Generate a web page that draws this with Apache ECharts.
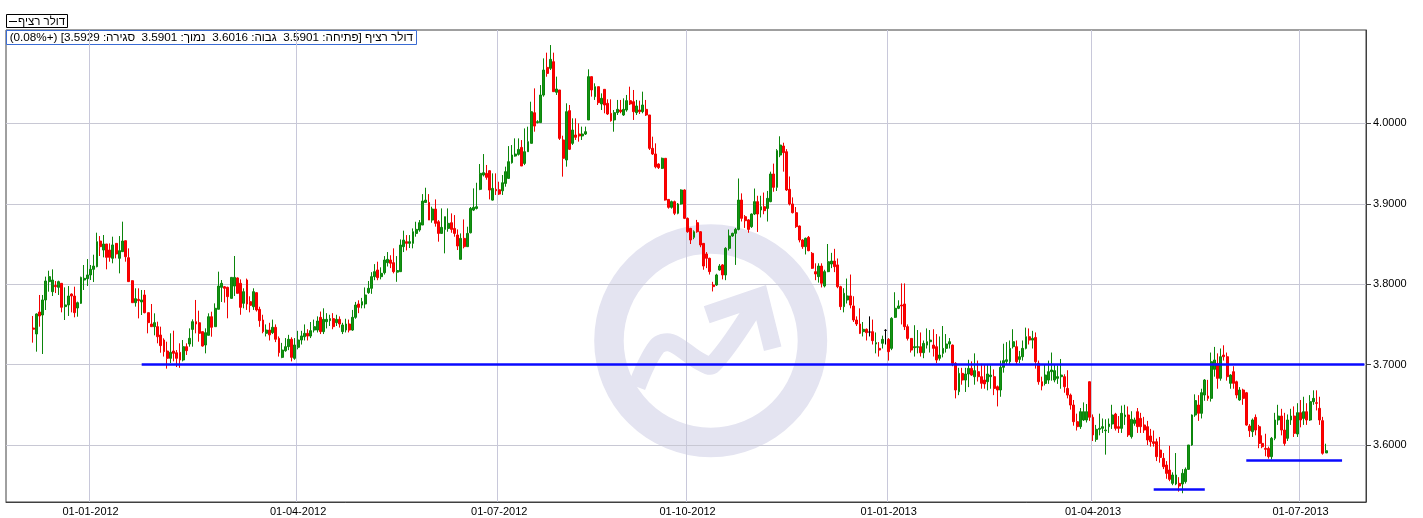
<!DOCTYPE html>
<html>
<head>
<meta charset="utf-8">
<script src="https://cdn.jsdelivr.net/npm/echarts@6.0.0/dist/echarts.min.js"></script>
<style>
  html, body { margin: 0; padding: 0; background: #fff; }
  #dollarChart { width: 1423px; height: 518px; direction: rtl; }
</style>
</head>
<body>
<div id="dollarChart"></div>
<script>
// דולר רציף - נרות יומיים [open, close, low, high]
const decFeb2012 = [
  [3.7455,3.7440,3.7273,3.7605],[3.7381,3.7630,3.7161,3.7638],[3.7654,3.7605,3.7472,3.7866],[3.7617,3.7804,3.7132,3.7866],
  [3.7804,3.8040,3.7679,3.8094],[3.8032,3.8094,3.7907,3.8168],[3.7907,3.8052,3.7853,3.8185],[3.7985,3.7970,3.7890,3.8040],
  [3.7961,3.8032,3.7866,3.8044],[3.8011,3.7713,3.7650,3.8015],[3.7721,3.7742,3.7555,3.7961],[3.7742,3.7853,3.7605,3.7977],
  [3.7878,3.7853,3.7650,3.7886],[3.7853,3.7646,3.7588,3.7969],[3.7704,3.7770,3.7596,3.7783],[3.7762,3.8085,3.7754,3.8094],
  [3.8052,3.8073,3.7928,3.8239],[3.8069,3.8115,3.7978,3.8313],[3.8115,3.8185,3.8052,3.8239],[3.8185,3.8226,3.8027,3.8367],
  [3.8218,3.8529,3.8210,3.8641],[3.8537,3.8467,3.8351,3.8599],[3.8425,3.8500,3.8334,3.8612],[3.8500,3.8334,3.8185,3.8500],
  [3.8425,3.8334,3.8280,3.8508],[3.8322,3.8488,3.8260,3.8591],[3.8508,3.8376,3.8322,3.8508],[3.8322,3.8417,3.8135,3.8599],
  [3.8405,3.8537,3.8405,3.8778],[3.8541,3.8342,3.8280,3.8541],[3.8330,3.8032,3.8032,3.8446],[3.8044,3.7770,3.7770,3.8048],
  [3.7770,3.7820,3.7721,3.7949],[3.7812,3.7795,3.7575,3.7949],[3.7779,3.7804,3.7617,3.7928],[3.7866,3.7646,3.7638,3.7928],
  [3.7646,3.7522,3.7389,3.7646],[3.7505,3.7472,3.7472,3.7754],[3.7472,3.7522,3.7364,3.7638],[3.7472,3.7347,3.7265,3.7534],
  [3.7368,3.7236,3.7148,3.7472],[3.7306,3.7161,3.7100,3.7327],[3.7169,3.7078,3.6950,3.7285],[3.7078,3.7153,3.7020,3.7389],
  [3.7169,3.7140,3.7040,3.7422],[3.7148,3.7078,3.6970,3.7181],[3.7153,3.7057,3.6960,3.7265],[3.7057,3.7223,3.7040,3.7306],
  [3.7223,3.7173,3.7120,3.7265],[3.7256,3.7327,3.7223,3.7451],[3.7438,3.7534,3.7223,3.7563],[3.7534,3.7505,3.7389,3.7804],
  [3.7521,3.7389,3.7285,3.7671],[3.7410,3.7231,3.7223,3.7410],[3.7244,3.7397,3.7140,3.7451],[3.7364,3.7596,3.7364,3.7638],
  [3.7596,3.7464,3.7347,3.7658],[3.7472,3.7700,3.7472,3.7762],[3.7688,3.7977,3.7688,3.8156],[3.7961,3.8011,3.7779,3.8052],
  [3.7969,3.7949,3.7771,3.7977],[3.7961,3.7845,3.7576,3.7969],[3.7824,3.8085,3.7824,3.8085],[3.7977,3.8085,3.7853,3.8351],
  [3.8078,3.7886,3.7886,3.8085]
];
const marMay2012 = [
  [3.8011,3.7712,3.7620,3.8060],[3.7762,3.7907,3.7700,3.7949],[3.8052,3.7754,3.7680,3.8070],[3.7783,3.7737,3.7650,3.7850],
  [3.7720,3.7907,3.7680,3.7949],[3.7895,3.7679,3.7660,3.7900],[3.7687,3.7547,3.7470,3.7720],[3.7555,3.7410,3.7390,3.7620],
  [3.7389,3.7430,3.7350,3.7500],[3.7430,3.7370,3.7300,3.7520],[3.7397,3.7464,3.7380,3.7560],[3.7464,3.7315,3.7280,3.7500],
  [3.7327,3.7148,3.7100,3.7350],[3.7090,3.7181,3.7080,3.7270],[3.7173,3.7223,3.7160,3.7330],[3.7223,3.7315,3.7180,3.7370],
  [3.7315,3.7090,3.7040,3.7340],[3.7078,3.7244,3.7060,3.7330],[3.7215,3.7306,3.7190,3.7420],[3.7306,3.7356,3.7250,3.7420],
  [3.7347,3.7389,3.7300,3.7500],[3.7389,3.7355,3.7300,3.7440],[3.7355,3.7422,3.7330,3.7530],[3.7430,3.7472,3.7400,3.7560],
  [3.7430,3.7542,3.7400,3.7600],[3.7588,3.7410,3.7380,3.7660],[3.7410,3.7563,3.7380,3.7700],[3.7534,3.7563,3.7450,3.7640],
  [3.7547,3.7572,3.7480,3.7620],[3.7572,3.7472,3.7440,3.7640],[3.7522,3.7563,3.7480,3.7620],[3.7563,3.7505,3.7460,3.7600],
  [3.7410,3.7493,3.7380,3.7520],[3.7430,3.7505,3.7400,3.7570],[3.7505,3.7430,3.7400,3.7560],[3.7430,3.7588,3.7420,3.7680],
  [3.7588,3.7741,3.7570,3.7780],[3.7754,3.7712,3.7640,3.7800],[3.7741,3.7783,3.7700,3.7830],[3.7754,3.7866,3.7700,3.7960],
  [3.7895,3.7949,3.7880,3.8040],[3.7949,3.8094,3.7880,3.8150],[3.8094,3.8156,3.8050,3.8250],[3.8177,3.8081,3.8050,3.8280],
  [3.8094,3.8135,3.8060,3.8210],[3.8143,3.8301,3.8120,3.8350],[3.8268,3.8309,3.8220,3.8400],[3.8301,3.8260,3.8200,3.8360]
];
const mayAug2012 = [
  [3.8268,3.8156,3.8135,3.8446],[3.8150,3.8170,3.8030,3.8350],[3.8156,3.8487,3.8156,3.8557],[3.8467,3.8549,3.8400,3.8666],
  [3.8529,3.8508,3.8420,3.8611],[3.8508,3.8529,3.8450,3.8611],[3.8508,3.8653,3.8446,3.8694],[3.8632,3.8682,3.8591,3.8777],
  [3.8674,3.8765,3.8653,3.8798],[3.8736,3.9034,3.8736,3.9121],[3.9017,3.9046,3.9017,3.9200],[3.9017,3.8798,3.8798,3.9121],
  [3.8798,3.8935,3.8765,3.8964],[3.8935,3.8757,3.8716,3.9055],[3.8777,3.8632,3.8529,3.8798],[3.8632,3.8707,3.8632,3.8943],
  [3.8682,3.8840,3.8384,3.8840],[3.8694,3.8757,3.8653,3.8943],[3.8765,3.8682,3.8640,3.8881],[3.8694,3.8632,3.8591,3.8860],
  [3.8612,3.8475,3.8425,3.8682],[3.8309,3.8570,3.8309,3.8632],[3.8570,3.8467,3.8446,3.8806],[3.8467,3.8632,3.8467,3.8715],
  [3.8640,3.8943,3.8632,3.8960],[3.8922,3.8956,3.8910,3.9192],[3.8943,3.8964,3.8930,3.9262],[3.9180,3.9379,3.9170,3.9495],
  [3.9358,3.9387,3.9340,3.9619],[3.9379,3.9329,3.9300,3.9483],[3.9412,3.9171,3.9055,3.9416],[3.9046,3.9192,3.9040,3.9379],
  [3.9180,3.9162,3.9110,3.9379],[3.9175,3.9121,3.9110,3.9275],[3.9162,3.9262,3.9110,3.9358],[3.9254,3.9400,3.9213,3.9462],
  [3.9316,3.9524,3.9316,3.9718],[3.9511,3.9607,3.9500,3.9731],[3.9594,3.9619,3.9586,3.9814],[3.9615,3.9677,3.9600,3.9814],
  [3.9702,3.9470,3.9470,3.9793],[3.9503,3.9648,3.9482,3.9938],[3.9648,3.9773,3.9648,3.9959],[3.9752,4.0146,3.9752,4.0270],
  [4.0133,3.9967,3.9897,4.0436],[4.0010,4.0022,4.0000,4.0040],[4.0010,4.0353,4.0010,4.0477],[4.0353,4.0664,4.0333,4.0809],
  [4.0697,4.0622,4.0581,4.0880],[4.0685,4.0797,4.0664,4.0975],[4.0768,4.0395,4.0395,4.0880]
];
const augOct2012 = [
  [4.0387,4.0428,4.0354,4.0582],[4.0416,3.9814,3.9794,4.0416],[3.9794,3.9566,3.9338,3.9847],[3.9545,4.0146,3.9462,4.0250],
  [4.0159,3.9678,3.9669,4.0229],[3.9752,3.9918,3.9732,4.0063],[3.9856,3.9827,3.9794,4.0063],[3.9868,3.9844,3.9773,4.0001],
  [3.9844,3.9868,3.9794,3.9960],[3.9868,3.9897,3.9856,3.9960],[4.0043,4.0582,4.0043,4.0673],[4.0582,4.0416,4.0333,4.0582],
  [4.0333,4.0457,4.0292,4.0499],[4.0457,4.0258,4.0229,4.0457],[4.0242,4.0312,4.0167,4.0374],[4.0424,4.0229,4.0126,4.0424],
  [4.0250,4.0117,4.0105,4.0300],[4.0126,4.0034,4.0022,4.0300],[4.0043,4.0134,3.9897,4.0167],[4.0134,4.0175,4.0105,4.0292],
  [4.0167,4.0146,4.0126,4.0292],[4.0105,4.0175,4.0093,4.0312],[4.0167,4.0283,4.0146,4.0354],[4.0283,4.0242,4.0229,4.0457],
  [4.0271,4.0146,4.0043,4.0416],[4.0134,4.0217,4.0105,4.0292],[4.0167,4.0146,4.0117,4.0283],[4.0146,4.0229,4.0126,4.0395],
  [4.0175,4.0105,4.0093,4.0292],[4.0105,3.9690,3.9669,4.0105],[3.9690,3.9620,3.9607,3.9835],[3.9620,3.9460,3.9441,3.9752],
  [3.9495,3.9450,3.9433,3.9504],[3.9441,3.9566,3.9433,3.9575],[3.9566,3.9047,3.9040,3.9566]
];
const octDec2012 = [
  [3.9055,3.8956,3.8940,3.9060],[3.8956,3.9027,3.8940,3.9040],[3.9027,3.8882,3.8860,3.9040],[3.8882,3.8998,3.8870,3.9010],
  [3.8998,3.9172,3.8990,3.9180],[3.9172,3.8819,3.8810,3.9180],[3.8819,3.8653,3.8640,3.8830],[3.8695,3.8550,3.8500,3.8700],
  [3.8583,3.8653,3.8560,3.8670],[3.8765,3.8653,3.8640,3.8800],[3.8653,3.8488,3.8460,3.8660],[3.8508,3.8226,3.8180,3.8510],
  [3.8376,3.8322,3.8200,3.8400],[3.8322,3.8156,3.8120,3.8330],[3.7990,3.7970,3.7910,3.8030],[3.7990,3.8115,3.7980,3.8130],
  [3.8177,3.8226,3.8170,3.8250],[3.8240,3.8115,3.8060,3.8250],[3.8115,3.8446,3.8050,3.8460],[3.8446,3.8600,3.8420,3.8680],
  [3.8600,3.8633,3.8590,3.8640],[3.8633,3.8682,3.8240,3.8700],[3.8682,3.9047,3.8670,3.9315],[3.9047,3.8819,3.8780,3.9130],
  [3.8840,3.8790,3.8700,3.8860],[3.8800,3.8682,3.8640,3.8810],[3.8716,3.8873,3.8700,3.8880],[3.8873,3.9027,3.8860,3.9190],
  [3.9027,3.8873,3.8650,3.9100],[3.8923,3.8964,3.8830,3.9100],[3.8964,3.8915,3.8870,3.9140],[3.8943,3.9068,3.8780,3.9160],
  [3.9027,3.9371,3.9020,3.9400],[3.9371,3.9205,3.9150,3.9500],[3.9205,3.9661,3.9160,3.9680],[3.9607,3.9731,3.9580,3.9840],
  [3.9719,3.9636,3.9400,3.9760],[3.9648,3.9172,3.9160,3.9680],[3.9180,3.8998,3.8980,3.9340],[3.8998,3.8890,3.8880,3.9080],
  [3.8890,3.8716,3.8700,3.8960],[3.8724,3.8550,3.8520,3.8730],[3.8550,3.8467,3.8440,3.8560],[3.8467,3.8571,3.8370,3.8580],
  [3.8583,3.8417,3.8410,3.8600],[3.8384,3.8198,3.8190,3.8400],[3.8156,3.8127,3.8050,3.8260],[3.8094,3.8226,3.8020,3.8260],
  [3.8226,3.8011,3.7960,3.8260],[3.7978,3.8156,3.7960,3.8180],[3.8156,3.8280,3.8150,3.8500],[3.8251,3.8288,3.8200,3.8390],
  [3.8288,3.8218,3.8150,3.8440],[3.8240,3.7969,3.7950,3.8320],[3.7969,3.7721,3.7680,3.7980],[3.7721,3.7887,3.7650,3.7950],
  [3.7804,3.7854,3.7760,3.8070],[3.7854,3.7741,3.7700,3.8120],[3.7729,3.7555,3.7530,3.7850],[3.7555,3.7505,3.7480,3.7600],
  [3.7505,3.7389,3.7380,3.7700],[3.7410,3.7439,3.7350,3.7530],[3.7439,3.7397,3.7300,3.7450],[3.7405,3.7405,3.7350,3.7600],
  [3.7410,3.7298,3.7250,3.7560],[3.7256,3.7273,3.7140,3.7400],[3.7202,3.7181,3.7100,3.7280],[3.7265,3.7314,3.7200,3.7360],
  [3.7426,3.7426,3.7250,3.7440],[3.7314,3.7161,3.7050,3.7330],[3.7202,3.7575,3.7180,3.7590],[3.7588,3.7700,3.7580,3.7900],
  [3.7700,3.7729,3.7690,3.7800]
];
const janMar2013 = [
  [3.7741,3.7729,3.7500,3.8010],[3.7754,3.7472,3.7430,3.8010],[3.7472,3.7326,3.7300,3.7500],[3.7326,3.7181,3.7150,3.7330],
  [3.7210,3.7223,3.7100,3.7490],[3.7215,3.7223,3.7140,3.7430],[3.7223,3.7148,3.7100,3.7400],[3.7148,3.7264,3.7080,3.7300],
  [3.7243,3.7285,3.7200,3.7450],[3.7285,3.7305,3.7150,3.7430],[3.7243,3.7202,3.7100,3.7440],[3.7223,3.7057,3.7020,3.7380],
  [3.7078,3.7119,3.7050,3.7350],[3.7140,3.7202,3.7090,3.7480],[3.7202,3.7256,3.7150,3.7380],[3.7256,3.7285,3.7200,3.7330],
  [3.7243,3.7016,3.6980,3.7250],[3.7016,3.6684,3.6580,3.7030],[3.6663,3.6891,3.6620,3.6960],[3.6891,3.6808,3.6750,3.6960],
  [3.6808,3.6883,3.6660,3.6960],[3.6883,3.6953,3.6720,3.7060],[3.6953,3.6870,3.6860,3.7040],[3.6850,3.6925,3.6750,3.7140],
  [3.6912,3.6850,3.6790,3.7050],[3.6850,3.6767,3.6700,3.7010],[3.6808,3.6760,3.6700,3.7000],[3.6787,3.6883,3.6680,3.7000],
  [3.6850,3.6870,3.6700,3.6990],[3.6850,3.6704,3.6620,3.6940],[3.6725,3.6684,3.6480,3.6740],[3.6684,3.6966,3.6600,3.7050],
  [3.6966,3.7049,3.6900,3.7260],[3.7040,3.7060,3.7000,3.7280],[3.7036,3.7202,3.7000,3.7300],[3.7223,3.7285,3.7200,3.7440],
  [3.7223,3.7036,3.7000,3.7300],[3.7065,3.7098,3.7020,3.7170],[3.7098,3.7202,3.7050,3.7300],[3.7202,3.7347,3.7190,3.7460],
  [3.7347,3.7305,3.7250,3.7450],[3.7305,3.7326,3.7200,3.7420],[3.7338,3.7036,3.6950,3.7400],[3.7016,3.6787,3.6750,3.7050],
  [3.6787,3.6733,3.6680,3.6850],[3.6766,3.6870,3.6740,3.7000],[3.6808,3.6912,3.6760,3.7050],[3.6912,3.6933,3.6800,3.7150],
  [3.6808,3.6925,3.6780,3.7000],[3.6829,3.6850,3.6760,3.6990],[3.6850,3.6870,3.6700,3.7070],[3.6850,3.6725,3.6650,3.6880],
  [3.6704,3.6621,3.6580,3.6930],[3.6621,3.6497,3.6440,3.6640],[3.6497,3.6290,3.6240,3.6560],[3.6290,3.6228,3.6180,3.6390],
  [3.6228,3.6414,3.6200,3.6460],[3.6311,3.6414,3.6300,3.6530],[3.6311,3.6414,3.6280,3.6510],[3.6787,3.6345,3.6300,3.6790],
  [3.6345,3.6125,3.6050,3.6380],[3.6070,3.6195,3.6040,3.6250],[3.6195,3.6207,3.6120,3.6390],[3.6207,3.6228,3.6150,3.6330],
  [3.6178,3.6186,3.5880,3.6320],[3.6228,3.6261,3.6150,3.6330],[3.6261,3.6373,3.6200,3.6500],[3.6385,3.6207,3.6180,3.6400],
  [3.6228,3.6207,3.6150,3.6360],[3.6207,3.6394,3.6150,3.6490],[3.6352,3.6373,3.6250,3.6500],[3.6373,3.6125,3.6100,3.6480],
  [3.6104,3.6319,3.6080,3.6420],[3.6269,3.6311,3.6240,3.6340],[3.6414,3.6228,3.6150,3.6460]
];
const aprJul2013 = [
  [3.6331,3.6228,3.6150,3.6400],[3.6249,3.6186,3.6150,3.6350],[3.6228,3.6062,3.6000,3.6300],[3.6112,3.6041,3.5980,3.6200],
  [3.6041,3.6020,3.5980,3.6180],[3.6041,3.5855,3.5800,3.6080],[3.5937,3.5846,3.5780,3.6100],[3.5834,3.5730,3.5700,3.5900],
  [3.5751,3.5647,3.5580,3.5800],[3.5689,3.5573,3.5550,3.5990],[3.5523,3.5627,3.5500,3.5660],[3.5515,3.5627,3.5500,3.5900],
  [3.5523,3.5490,3.5420,3.5600],[3.5515,3.5648,3.5400,3.5700],[3.5544,3.5697,3.5520,3.5720],[3.5697,3.6000,3.5690,3.6000],
  [3.6000,3.6373,3.5990,3.6380],[3.6373,3.6552,3.6350,3.6630],[3.6497,3.6394,3.6300,3.6620],[3.6394,3.6651,3.6330,3.6700],
  [3.6622,3.6808,3.6550,3.6820],[3.6609,3.6580,3.6550,3.6810],[3.6580,3.7036,3.6540,3.7150],[3.6941,3.7057,3.6850,3.7220],
  [3.7015,3.6829,3.6700,3.7140],[3.6829,3.7098,3.6800,3.7200],[3.7119,3.7098,3.7050,3.7240],[3.7098,3.6850,3.6800,3.7150],
  [3.6767,3.6870,3.6700,3.6880],[3.6912,3.6767,3.6700,3.6980],[3.6787,3.6622,3.6580,3.6800],[3.6560,3.6684,3.6550,3.6720],
  [3.6684,3.6580,3.6500,3.6700],[3.6650,3.6248,3.6240,3.6660],[3.6236,3.6178,3.6100,3.6260],[3.6166,3.6311,3.6100,3.6330],
  [3.6344,3.6186,3.6120,3.6380],[3.6228,3.6020,3.5960,3.6250],[3.6020,3.5979,3.5960,3.6120],[3.5958,3.5946,3.5860,3.6140],
  [3.5958,3.5855,3.5830,3.5980],[3.5855,3.6083,3.5820,3.6100],[3.6083,3.6311,3.6060,3.6400],[3.6311,3.6360,3.6250,3.6500],
  [3.6360,3.6186,3.6120,3.6450],[3.6186,3.6020,3.5990,3.6400],[3.6083,3.6311,3.6050,3.6380],[3.6311,3.6360,3.6250,3.6450],
  [3.6360,3.6145,3.6100,3.6480],[3.6137,3.6402,3.6100,3.6520],[3.6402,3.6311,3.6220,3.6560],[3.6331,3.6414,3.6250,3.6600],
  [3.6414,3.6311,3.6250,3.6520],[3.6311,3.6539,3.6300,3.6620],[3.6539,3.6580,3.6500,3.6680],[3.6526,3.6518,3.6430,3.6680],
  [3.6456,3.6311,3.6250,3.6600],[3.6303,3.5897,3.5880,3.6350],[3.5901,3.5929,3.5901,3.6016]
];

// ציר X: משבצות (ימי מסחר) ותוויות רבעון
const slotCount = 426;
const leadSlots = 8;
const quarterSlots = [26, 91, 154, 213, 276, 340, 405];
const quarterLabels = ['01-01-2012', '01-04-2012', '01-07-2012', '01-10-2012', '01-01-2013', '01-04-2013', '01-07-2013'];
// ציר Y
const yTicks = [3.6, 3.7, 3.8, 3.9, 4.0];
const yMin = 3.5291, yMax = 4.1162;
// קווי מגמה (משבצת, ערך)
const trendLines = [
  [[42, 3.7], [425, 3.7]],
  [[359, 3.5453], [375, 3.5453]],
  [[388, 3.5813], [418, 3.5813]]
];
const titleText = 'דולר רציף [פתיחה: 3.5901  גבוה: 3.6016  נמוך: 3.5901  סגירה: 3.5929] (+0.08%)';
const legendText = 'דולר רציף';

const FONT = '"Liberation Sans", Arial, "DejaVu Sans", sans-serif';
const WM = '#e4e4f1';

const candles = [].concat(decFeb2012, marMay2012, mayAug2012, augOct2012, octDec2012, janMar2013, aprJul2013);
const seriesData = [];
for (let k = 0; k < slotCount; k++) {
  const i = k - leadSlots;
  seriesData.push(i >= 0 && i < candles.length ? candles[i] : '-');
}
const categories = seriesData.map((d, k) => String(k));
const isQuarter = (k) => quarterSlots.indexOf(k) >= 0;

let myChart = echarts.init(document.getElementById('dollarChart'));
var option = {
  animation: false,
  backgroundColor: '#fff',
  grid: {
    left: 6, right: 57, top: 30, bottom: 16,
    show: true, borderColor: '#404040', borderWidth: 1
  },
  xAxis: {
    type: 'category',
    data: categories,
    boundaryGap: true,
    axisLine: { show: true, lineStyle: { color: '#404040' } },
    axisTick: { show: false },
    axisLabel: {
      interval: (k) => isQuarter(k),
      formatter: (v, k) => quarterLabels[quarterSlots.indexOf(k)] || '',
      fontSize: 11, color: '#000', margin: 4, fontFamily: FONT
    },
    splitLine: {
      show: true,
      interval: (k) => isQuarter(k),
      lineStyle: { color: '#c8c8da', width: 1 }
    }
  },
  yAxis: {
    type: 'value',
    position: 'right',
    min: yMin, max: yMax,
    scale: true,
    axisLine: { show: true, lineStyle: { color: '#404040' } },
    axisTick: { show: true, length: 5, customValues: yTicks, lineStyle: { color: '#404040' } },
    axisLabel: {
      customValues: yTicks,
      formatter: (v) => v.toFixed(4),
      fontSize: 11, color: '#000', margin: 7, fontFamily: FONT
    },
    splitLine: { show: true, lineStyle: { color: '#c8c8d4', width: 1 } }
  },
  series: [{
    type: 'candlestick',
    name: legendText,
    data: seriesData,
    barWidth: 2.4,
    itemStyle: {
      color: '#149414', color0: '#ff0000',
      borderColor: '#0b850b', borderColor0: '#f20000',
      borderColorDoji: '#000000', borderWidth: 1
    },
    markLine: {
      silent: true,
      animation: false,
      symbol: ['none', 'none'],
      label: { show: false },
      lineStyle: { color: '#0a0aff', width: 2.5, type: 'solid' },
      emphasis: { disabled: true },
      data: trendLines.map((l) => [{ coord: l[0] }, { coord: l[1] }])
    }
  }],
  graphic: [
    {
      type: 'group', x: 710.7, y: 340.7, z: -5, silent: true,
      children: [
        { type: 'ring', shape: { cx: 0, cy: 0, r: 116.5, r0: 87 }, style: { fill: WM } },
        { type: 'polyline', shape: { points: [[-74, 46], [-54, 6], [-40, 2], [-12, 20], [2, 24], [46, -38]], smooth: 0.35 },
          style: { fill: null, stroke: WM, lineWidth: 18 } },
        { type: 'polyline', shape: { points: [[-4, -26], [49, -44], [62, 8]] },
          style: { fill: null, stroke: WM, lineWidth: 18, lineJoin: 'miter' } }
      ]
    },
    {
      type: 'group', z: 100, silent: true,
      children: [
        { type: 'rect', shape: { x: 6.5, y: 14.5, width: 61, height: 13 }, style: { fill: '#fff', stroke: '#000', lineWidth: 1 } },
        { type: 'line', shape: { x1: 9, y1: 21.5, x2: 17, y2: 21.5 }, style: { stroke: '#000', lineWidth: 1 } },
        { type: 'text', x: 18, y: 21.5, style: { text: legendText, fill: '#000', font: '11.5px ' + FONT, align: 'left', verticalAlign: 'middle' } },
        { type: 'rect', shape: { x: 6.5, y: 30.5, width: 410, height: 14 }, style: { fill: '#fff', stroke: '#3a6cd4', lineWidth: 1 } },
        { type: 'text', x: 413, y: 38, style: { text: titleText, fill: '#000', font: '11.7px ' + FONT, align: 'right', verticalAlign: 'middle' } }
      ]
    }
  ]
};
myChart.setOption(option);
window.onresize = function () {
  myChart.resize();
};
</script>
</body>
</html>
